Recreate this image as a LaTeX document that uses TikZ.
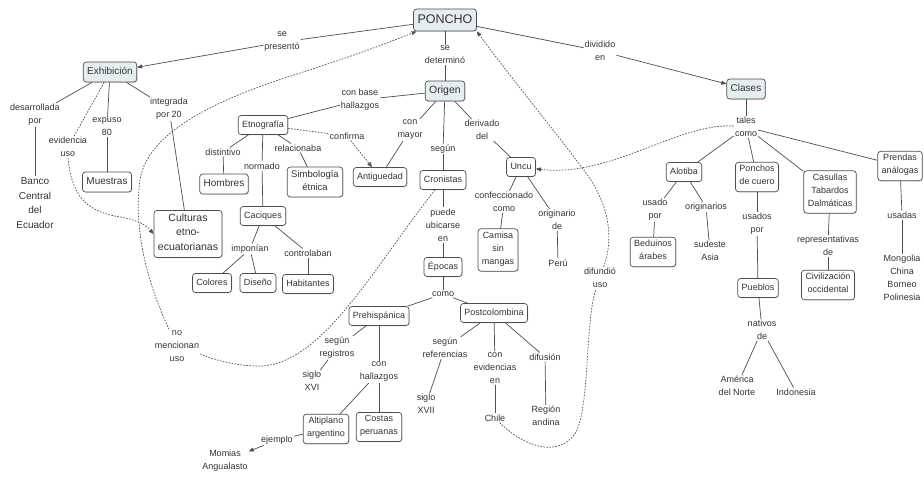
\documentclass[tikz,border=0pt]{standalone}
\usepackage{fontspec}
\setmainfont{Liberation Sans}
\usetikzlibrary{arrows.meta,shadows}
\definecolor{ink}{HTML}{333333}
\definecolor{edge}{HTML}{4E4E4E}
\definecolor{keyfill}{HTML}{E6EDEF}
\begin{document}
\begin{tikzpicture}[x=1pt,y=-1pt,
  every node/.style={text=ink, align=center},
  lbl/.style={inner sep=1pt, font=\fontsize{9}{13}\selectfont},
  free/.style={inner sep=1pt, font=\fontsize{9}{13}\selectfont},
  cbox/.style={draw=edge, line width=0.7pt, rounded corners=3pt, fill=white,
    inner xsep=4pt, inner ysep=3pt, font=\fontsize{9}{13}\selectfont,
    execute at begin node=\strut, execute at end node=\strut,
    drop shadow={shadow xshift=0.8pt, shadow yshift=-0.8pt, fill=black!22}},
  keybox/.style={cbox, fill=keyfill},
  big/.style={font=\fontsize{10}{14}\selectfont},
  link/.style={draw=edge, line width=0.7pt},
  hint/.style={link, dash pattern=on 1.6pt off 1.4pt},
  arrowend/.style={-{Triangle[length=5pt,width=4pt]}},
]
\fill[white] (0,0) rectangle (924,481);
\useasboundingbox (0,0) rectangle (924,481);

% ---- top level ----
\node[keybox, font=\fontsize{12.5}{16}\selectfont] (poncho) at (445,20) {PONCHO};
\node[lbl] (sepres) at (282,42) {se\\presentó};
\node[keybox, big] (exhib) at (110,72) {Exhibición};
\node[lbl] (sedet) at (445,55) {se\\determinó};
\node[keybox, font=\fontsize{10.5}{14}\selectfont] (origen) at (445,91) {Origen};
\node[lbl] (divid) at (600,51) {dividido\\en};
\node[keybox, big] (clases) at (746,89) {Clases};
\node[lbl] (tales) at (746,127) {tales\\como};

% ---- Exhibición branch ----
\node[lbl] (desarr) at (35,115) {desarrollada\\por};
\node[free, font=\fontsize{10}{14.7}\selectfont] (banco) at (35,203) {Banco\\Central\\del\\Ecuador};
\node[lbl] (evid) at (68,147) {evidencia\\uso};
\node[lbl] (expuso) at (107,127) {expuso\\80};
\node[cbox, big] (muestras) at (107,182) {Muestras};
\node[lbl] (integ) at (169,109) {integrada\\por 20};
\node[cbox, font=\fontsize{10.5}{14.5}\selectfont] (cult) at (188,234) {Culturas\\etno-\\ecuatorianas};
\node[lbl] (nomenc) at (177,346) {no\\mencionan\\uso};

% ---- Origen branch ----
\node[lbl] (conbase) at (360,100) {con base\\hallazgos};
\node[cbox] (etno) at (263,125) {Etnografía};
\node[lbl] (distint) at (223,152) {distintivo};
\node[cbox, big] (hombres) at (224,184) {Hombres};
\node[lbl] (normado) at (262,166) {normado};
\node[lbl] (relac) at (298,148) {relacionaba};
\node[cbox, font=\fontsize{9.5}{13}\selectfont] (simbol) at (315,182) {Simbología\\étnica};
\node[lbl] (confirma) at (347,136) {confirma};
\node[cbox] (antig) at (380,177) {Antiguedad};
\node[lbl] (conmayor) at (410,130) {con\\mayor};
\node[lbl] (segun) at (443,149) {según};
\node[cbox] (cron) at (443,180) {Cronistas};
\node[lbl] (deriv) at (482,130) {derivado\\del};
\node[cbox] (uncu) at (521,167) {Uncu};
\node[lbl] (confec) at (504,202) {confeccionado\\como};
\node[cbox] (camisa) at (498,250) {Camisa\\sin\\mangas};
\node[lbl] (orig) at (557,220) {originario\\de};
\node[free] (peru) at (558,263) {Perú};
\node[lbl] (difund) at (600,278) {difundió\\uso};

\node[cbox] (caciques) at (263,216) {Caciques};
\node[lbl] (imponian) at (250,249) {imponían};
\node[cbox] (colores) at (212,283) {Colores};
\node[cbox] (diseno) at (258,283) {Diseño};
\node[lbl] (control) at (308,253) {controlaban};
\node[cbox] (habit) at (308,284) {Habitantes};

\node[lbl] (puede) at (443,225) {puede\\ubicarse\\en};
\node[cbox] (epocas) at (443,267) {Épocas};
\node[lbl] (como) at (443,294) {como};
\node[cbox] (prehisp) at (379,316) {Prehispánica};
\node[cbox] (postcol) at (494,313) {Postcolombina};

\node[lbl] (segreg) at (337,348) {según\\registros};
\node[free] (sigloxvi) at (312,381) {siglo\\XVI};
\node[lbl] (conhall) at (379,372) {con\\hallazgos};
\node[cbox] (altip) at (326,429) {Altiplano\\argentino};
\node[cbox] (costas) at (379,427) {Costas\\peruanas};
\node[lbl] (ejemplo) at (277,440) {ejemplo};
\node[free] (momias) at (225,461) {Momias\\Angualasto};

\node[lbl] (segref) at (445,348) {según\\referencias};
\node[free] (sigloxvii) at (426,404) {siglo\\XVII};
\node[lbl] (conevid) at (495,368) {con\\evidencias\\en};
\node[free] (chile) at (495,418) {Chile};
\node[lbl] (difusion) at (545,357) {difusión};
\node[free] (region) at (546,416) {Región\\andina};

% ---- Clases branch ----
\node[cbox] (alotiba) at (684,172) {Alotiba};
\node[cbox] (ponchos) at (757,177) {Ponchos\\de cuero};
\node[cbox] (casullas) at (830,192) {Casullas\\Tabardos\\Dalmáticas};
\node[cbox] (prendas) at (900,166) {Prendas\\análogas};
\node[lbl] (usadopor) at (655,210) {usado\\por};
\node[cbox] (beduinos) at (653,252) {Beduinos\\árabes};
\node[lbl] (originarios) at (706,207) {originarios};
\node[free] (sudeste) at (710,251) {sudeste\\Asia};
\node[lbl] (usadospor) at (757,224) {usados\\por};
\node[cbox] (pueblos) at (758,288) {Pueblos};
\node[lbl] (nativos) at (762,330) {nativos\\de};
\node[free] (america) at (737,386) {América\\del Norte};
\node[free] (indonesia) at (796,392) {Indonesia};
\node[lbl] (repres) at (828,246) {representativas\\de};
\node[cbox] (civil) at (828,285) {Civilización\\occidental};
\node[lbl] (usadas) at (902,215) {usadas};
\node[free] (mongolia) at (902,278) {Mongolia\\China\\Borneo\\Polinesia};

% ---- connectors: top level ----
\draw[link] (poncho) -- (sepres);
\draw[link, arrowend] (sepres) -- (exhib);
\draw[link] (poncho) -- (sedet);
\draw[link] (sedet) -- (origen);
\draw[link] (poncho) -- (divid);
\draw[link, arrowend] (divid) -- (clases);
\draw[link] (clases) -- (tales);

% ---- connectors: Exhibición ----
\draw[link] (exhib) -- (desarr);
\draw[link] (desarr) -- (banco);
\draw[hint] (exhib) -- (evid);
\draw[hint, arrowend] (evid.south) .. controls (72,200) and (90,212) .. (120,217)
  .. controls (138,220) and (146,225) .. (cult.west);
\draw[link] (exhib) -- (expuso);
\draw[link] (expuso) -- (muestras);
\draw[link] (exhib) -- (integ);
\draw[link] (integ) -- (cult);

% ---- dashed cross links ----
\draw[hint] (cron) .. controls (375,265) and (320,370) .. (255,366)
  .. controls (232,365) and (215,360) .. ([yshift=-8pt]nomenc.east);
\draw[hint, arrowend] (nomenc) .. controls (148,285) and (133,230) .. (140,180)
  .. controls (148,125) and (240,92) .. (300,73)
  .. controls (350,57) and (385,44) .. (poncho);
\draw[hint] (chile) .. controls (525,448) and (560,458) .. (576,432)
  .. controls (590,405) and (585,320) .. (difund);
\draw[hint, arrowend] (difund) .. controls (618,225) and (600,190) .. (580,165)
  .. controls (550,125) and (505,70) .. (poncho.south east);
\draw[hint, arrowend] (tales) .. controls (680,122) and (610,178) .. (uncu);

% ---- connectors: Origen ----
\draw[link] (origen) -- (conbase);
\draw[link] (conbase) -- (etno);
\draw[link] (etno) -- (distint);
\draw[link] (distint) -- (hombres);
\draw[link] (etno) -- (normado);
\draw[link] (normado) -- (caciques);
\draw[link] (etno) -- (relac);
\draw[link] (relac) -- (simbol);
\draw[hint] (etno) -- (confirma);
\draw[hint, arrowend] (confirma) -- (antig);
\draw[link] (origen) -- (conmayor);
\draw[link] (conmayor) -- (antig);
\draw[link] (origen) -- (segun);
\draw[link] (segun) -- (cron);
\draw[link] (origen) -- (deriv);
\draw[link] (deriv) -- (uncu);
\draw[link] (uncu) -- (confec);
\draw[link] (confec) -- (camisa);
\draw[link] (uncu) -- (orig);
\draw[link] (orig) -- (peru);
\draw[link] (caciques) -- (imponian);
\draw[link] (imponian) -- (colores);
\draw[link] (imponian) -- (diseno);
\draw[link] (caciques) -- (control);
\draw[link] (control) -- (habit);
\draw[link] (cron) -- (puede);
\draw[link] (puede) -- (epocas);
\draw[link] (epocas) -- (como);
\draw[link] (como) -- (prehisp);
\draw[link] (como) -- (postcol);
\draw[link] (prehisp) -- (segreg);
\draw[link] (segreg) -- (sigloxvi);
\draw[link] (prehisp) -- (conhall);
\draw[link] (conhall) -- (altip);
\draw[link] (conhall) -- (costas);
\draw[link] (altip) -- (ejemplo);
\draw[link, arrowend] (ejemplo) -- (momias);
\draw[link] (postcol) -- (segref);
\draw[link] (segref) -- (sigloxvii);
\draw[link] (postcol) -- (conevid);
\draw[link] (conevid) -- (chile);
\draw[link] (postcol) -- (difusion);
\draw[link] (difusion) -- (region);

% ---- connectors: Clases ----
\draw[link] (tales) -- (alotiba);
\draw[link] (tales) -- (ponchos);
\draw[link] (tales) -- (casullas);
\draw[link] (tales) -- (prendas);
\draw[link] (alotiba) -- (usadopor);
\draw[link] (usadopor) -- (beduinos);
\draw[link] (alotiba) -- (originarios);
\draw[link] (originarios) -- (sudeste);
\draw[link] (ponchos) -- (usadospor);
\draw[link] (usadospor) -- (pueblos);
\draw[link] (pueblos) -- (nativos);
\draw[link] (nativos) -- (america);
\draw[link] (nativos) -- (indonesia);
\draw[link] (casullas) -- (repres);
\draw[link] (repres) -- (civil);
\draw[link] (prendas) -- (usadas);
\draw[link] (usadas) -- (mongolia);
\end{tikzpicture}
\end{document}
